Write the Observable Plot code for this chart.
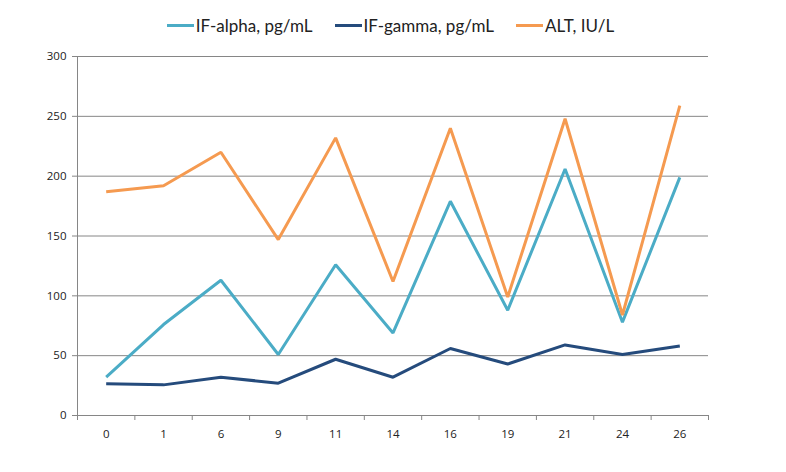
<!DOCTYPE html>
<html><head><meta charset="utf-8">
<script src="https://cdn.jsdelivr.net/npm/d3@7"></script>
<script src="https://cdn.jsdelivr.net/npm/@observablehq/plot@0.6"></script>
<style>
body{margin:0;background:#fff;}
#legend{height:40px;display:flex;justify-content:center;align-items:flex-end;font-family:Lato,"Open Sans",sans-serif;font-size:17px;color:#222;padding-right:5px;box-sizing:border-box;padding-bottom:4px}
.item{display:flex;align-items:center;margin:0 11px}
.sw{width:27px;height:3px;margin-right:2px}
</style></head>
<body>
<div id="legend"></div>
<div id="chart"></div>
<script>
const days = ["0","1","6","9","11","14","16","19","21","24","26"];
const ifAlpha = [32, 76, 113, 51, 126, 69, 179, 88, 206, 78, 199];
const ifGamma = [26.5, 25.6, 32, 27, 47, 32, 56, 43, 59, 51, 58];
const alt = [187, 192, 220, 147, 232, 112, 240, 99, 248, 84, 259];
const seriesNames = ["IF-alpha, pg/mL", "IF-gamma, pg/mL", "ALT, IU/L"];
const colors = ["#4bacc6", "#254b7c", "#f59a50"];
const yTicks = [0, 50, 100, 150, 200, 250, 300];

const allSeries = [ifAlpha, ifGamma, alt];
const rows = [];
allSeries.forEach((vals, s) => vals.forEach((v, i) => rows.push({i, v, s: seriesNames[s]})));
const idx = days.map((d, i) => i);
const bounds = [-0.5, ...idx.map(i => i + 0.5)];

const leg = document.getElementById("legend");
seriesNames.forEach((n, k) => {
  const it = document.createElement("div"); it.className = "item";
  it.innerHTML = `<span class="sw" style="background:${colors[k]}"></span><span>${n}</span>`;
  leg.appendChild(it);
});

const chart = Plot.plot({
  width: 786, height: 432,
  marginTop: 16, marginBottom: 57, marginLeft: 77, marginRight: 78,
  style: {fontFamily: "'Open Sans', sans-serif", fontSize: "11.5px", color: "#222"},
  x: {domain: [-0.5, days.length - 0.5]},
  y: {domain: [0, 300]},
  color: {domain: seriesNames, range: colors},
  marks: [
    Plot.gridY(yTicks, {stroke: "#868686", strokeOpacity: 1, strokeWidth: 1}),
    Plot.ruleX([-0.5], {y1: 0, y2: 300, stroke: "#868686"}),
    Plot.axisY(yTicks, {tickSize: 5, tickPadding: 6, stroke: "#868686", label: null, fill: "#222"}),
    Plot.axisX(bounds, {tickSize: 5, tickFormat: () => "", stroke: "#868686", label: null}),
    Plot.axisX(idx, {tickSize: 0, tickPadding: 14, tickFormat: i => days[i], label: null, fill: "#222"}),
    Plot.line(rows, {x: "i", y: "v", z: "s", stroke: "s", strokeWidth: 3, strokeLinejoin: "miter", strokeLinecap: "butt"})
  ]
});
document.getElementById("chart").appendChild(chart);
</script>
</body></html>
